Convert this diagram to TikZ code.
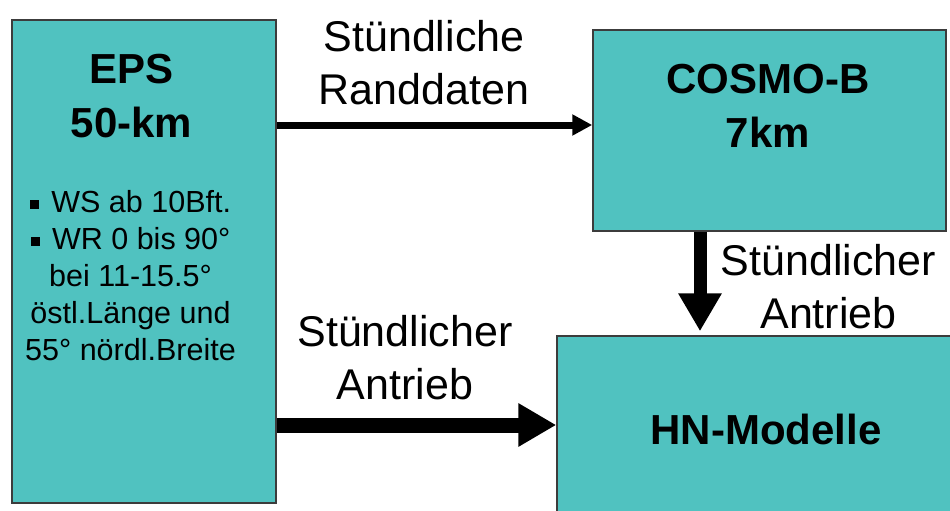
\documentclass[tikz,border=0pt]{standalone}
\usepackage{fontspec}
\setmainfont{Liberation Sans}
\usetikzlibrary{arrows.meta}
\definecolor{boxteal}{RGB}{80,194,192}
\definecolor{boxline}{RGB}{60,60,60}
\tikzset{
  modelbox/.style={draw=boxline, line width=1.5pt, fill=boxteal, inner sep=0pt},
  bigbold/.style={font=\fontsize{42}{54}\selectfont\bfseries, align=center, inner sep=0pt},
  smalltxt/.style={font=\fontsize{30.5}{37}\selectfont, align=center, inner sep=0pt},
  flowtxt/.style={font=\fontsize{43}{53}\selectfont, align=center, inner sep=0pt},
  thinarrow/.style={line width=7pt, -{Triangle[length=20pt,width=20pt]}},
  thickarrow/.style={line width=15pt, -{Triangle[length=38pt,width=41pt]}},
}
\newcommand{\sqbullet}{\raisebox{4pt}{\rule{9pt}{9pt}}\hspace{4pt}}
\begin{document}
\begin{tikzpicture}[x=1pt,y=-1pt]
\useasboundingbox (0,0) rectangle (950,511);
\clip (0,0) rectangle (950,511);
% boxes
\node[modelbox, minimum width=264pt, minimum height=483pt] (eps) at (144,261.5) {};
\node[modelbox, minimum width=353pt, minimum height=201pt] (cosmo) at (769.5,130.5) {};
\node[modelbox, minimum width=410pt, minimum height=200pt] (hn) at (762,436) {};
% box texts
\node[bigbold] (epstitle) at (131.5,96) {EPS\\50-km};
\node[smalltxt] (epslist) at (130.5,276) {\sqbullet{} WS ab 10Bft.\\\sqbullet{} WR 0 bis 90°\\bei 11-15.5°\\östl.Länge und\\55° nördl.Breite};
\node[bigbold] (cosmotitle) at (768,106) {COSMO-B\\7km};
\node[bigbold] (hntitle) at (766,429.5) {HN-Modelle};
% connectors
\coordinate (a1s) at (eps.east |- 0,125);
\coordinate (a1e) at (cosmo.west |- 0,125);
\draw[thinarrow] (a1s) -- (a1e);
\coordinate (a2s) at (eps.east |- 0,425);
\coordinate (a2e) at (hn.west |- 0,425);
\draw[thickarrow] (a2s) -- (a2e);
\coordinate (a3s) at (cosmo.south -| 700,0);
\coordinate (a3e) at (hn.north -| 700,0);
\draw[thickarrow, line width=13pt, shorten >=4pt] (a3s) -- (a3e);
% connector labels
\node[flowtxt] (lab1) at (424,63) {Stündliche\\Randdaten};
\node[flowtxt] (lab2) at (405,358) {Stündlicher\\Antrieb};
\node[flowtxt] (lab3) at (828.5,287) {Stündlicher\\Antrieb};
\end{tikzpicture}
\end{document}
